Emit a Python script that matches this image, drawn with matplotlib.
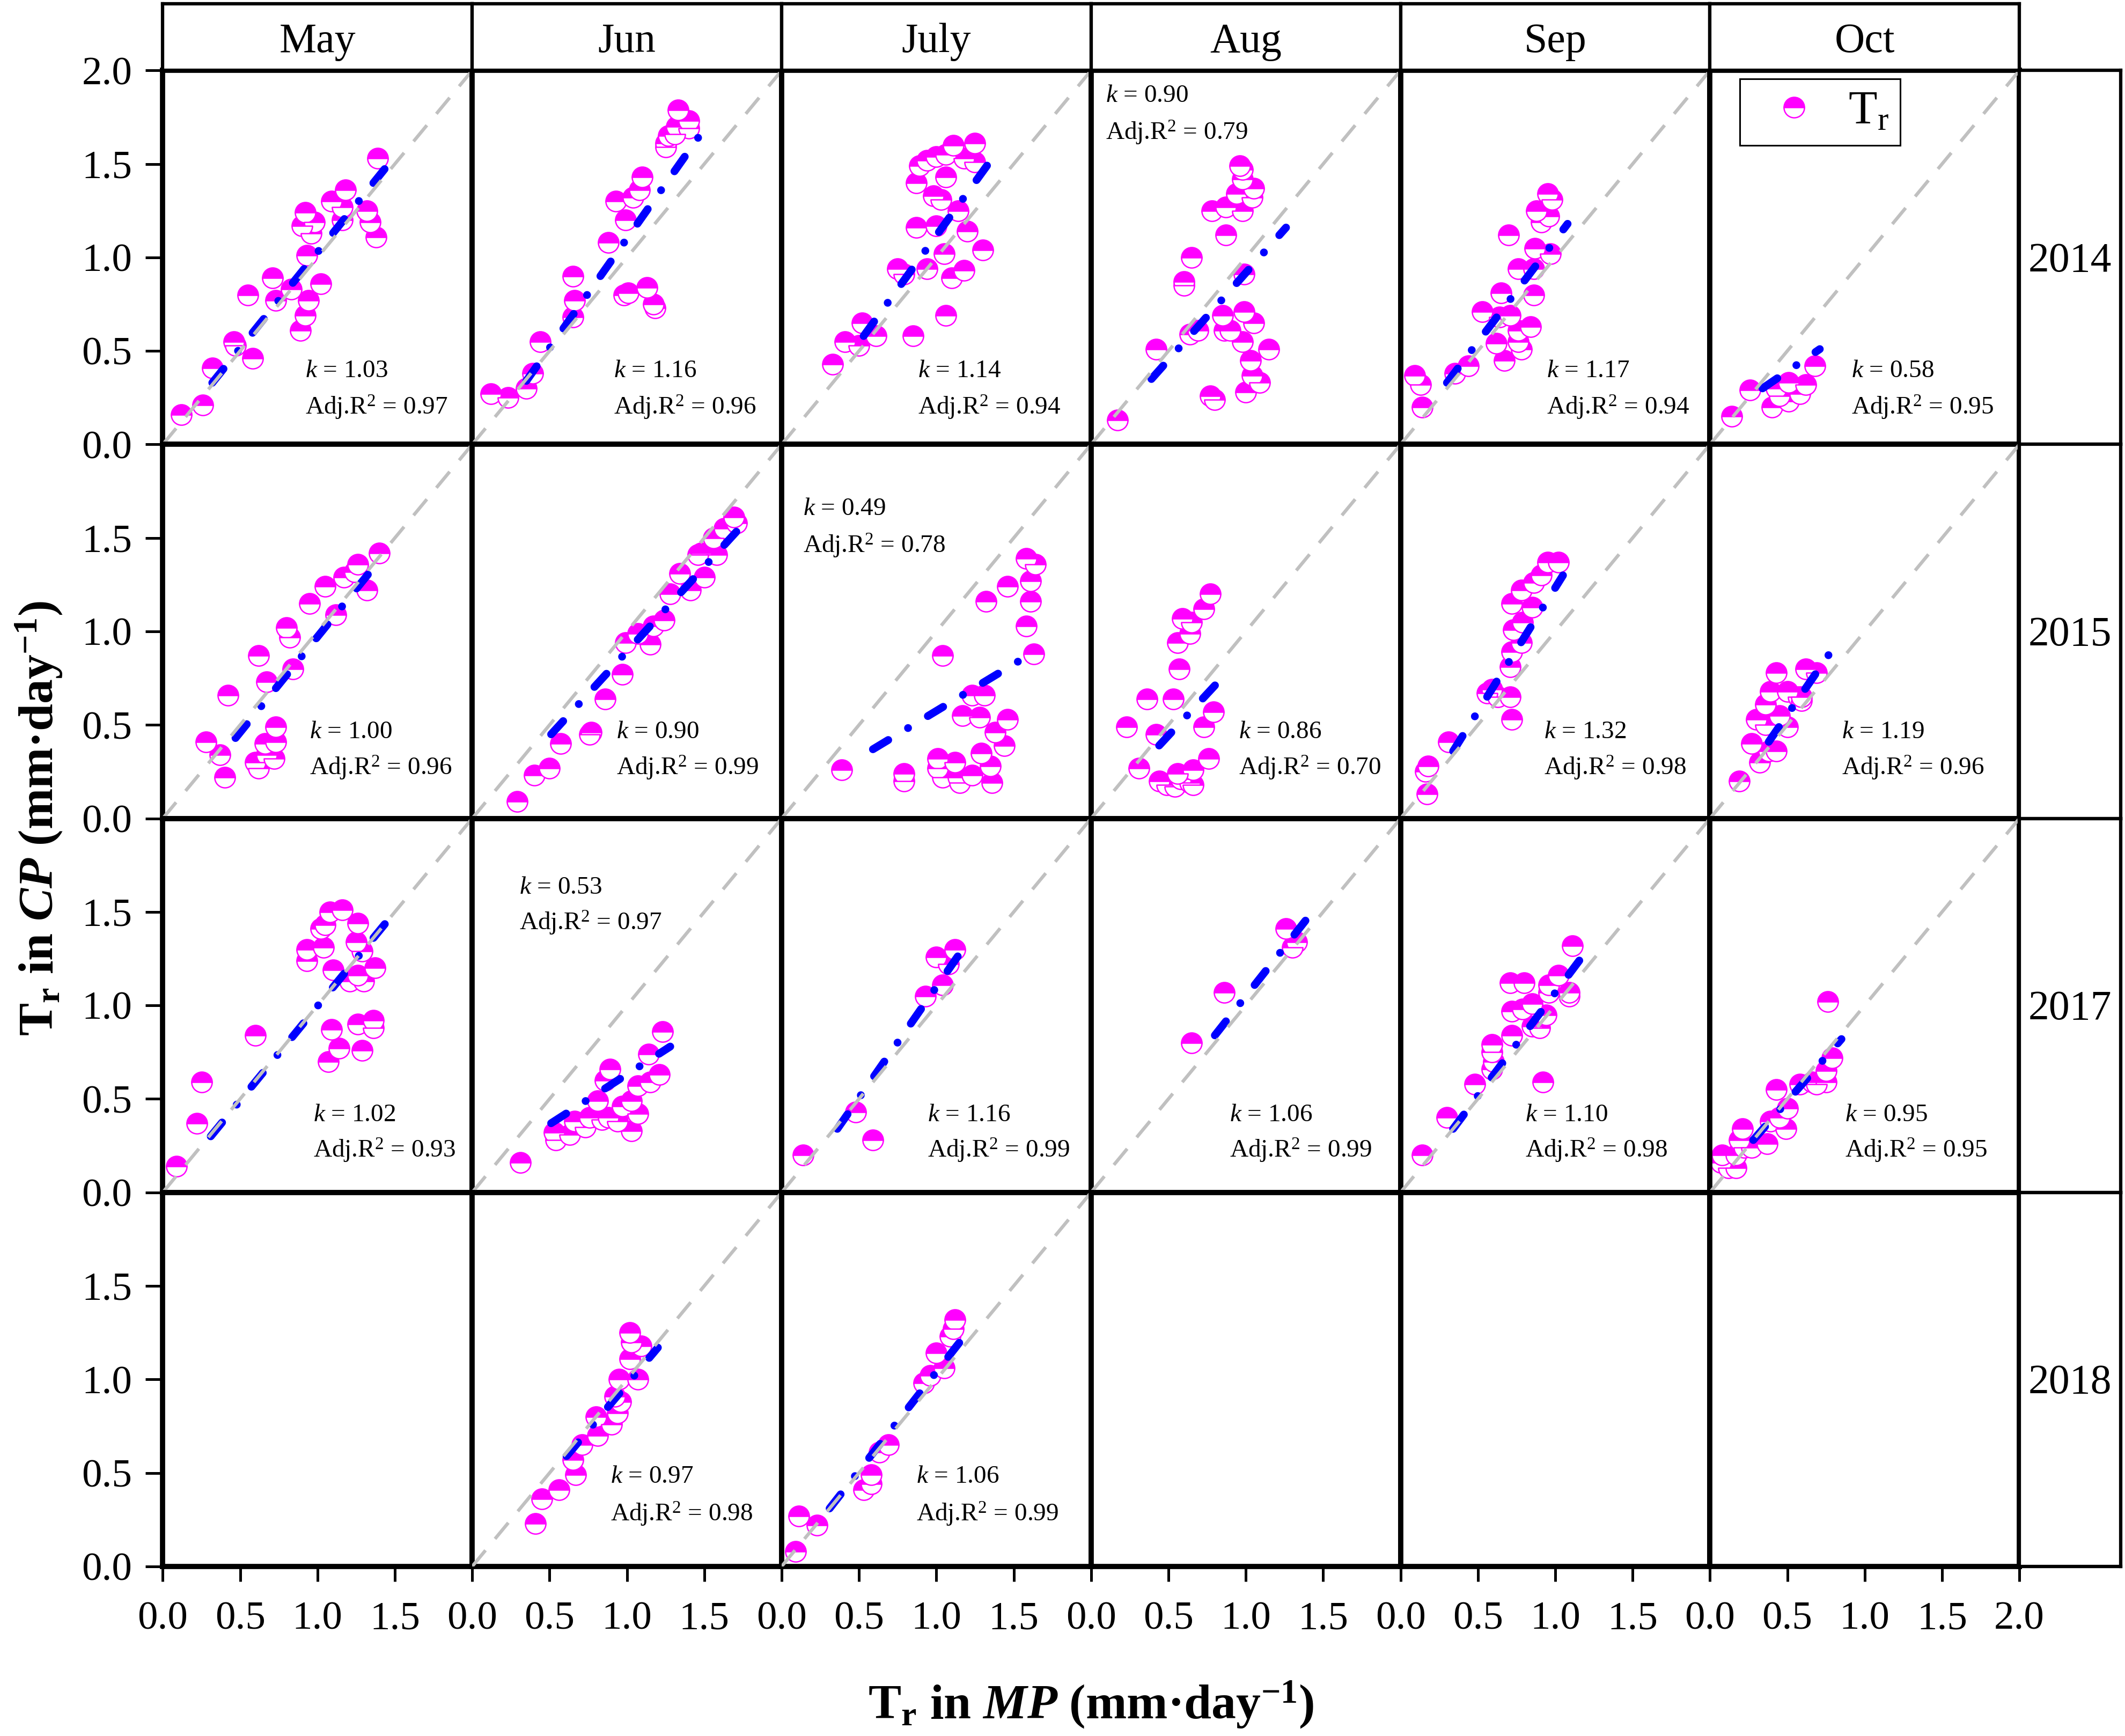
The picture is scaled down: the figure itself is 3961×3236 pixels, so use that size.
import matplotlib
matplotlib.use('Agg')
import matplotlib.pyplot as plt

plt.rcParams['font.family'] = ['Liberation Serif', 'DejaVu Serif']
plt.rcParams['mathtext.fontset'] = 'custom'
plt.rcParams['mathtext.rm'] = 'Liberation Serif'
plt.rcParams['mathtext.it'] = 'Liberation Serif:italic'
plt.rcParams['mathtext.bf'] = 'Liberation Serif:bold'
plt.rcParams['mathtext.bfit'] = 'Liberation Serif:italic:bold'
plt.rcParams['lines.scale_dashes'] = False

months = ['May', 'Jun', 'July', 'Aug', 'Sep', 'Oct']
years = ['2014', '2015', '2017', '2018']
ticks = [0.0, 0.5, 1.0, 1.5, 2.0]

# --- 2014 ---
pts_2014_may = [(0.12,0.16),(0.26,0.21),(0.32,0.41),(0.46,0.55),(0.47,0.53),(0.58,0.46),(0.55,0.80),
                (0.71,0.89),(0.73,0.77),(0.83,0.83),(0.93,1.01),(1.02,0.86),(0.94,0.77),(0.92,0.69),
                (0.89,0.61),(0.92,1.24),(0.98,1.19),(0.90,1.17),(0.96,1.13),(1.09,1.30),(1.18,1.36),
                (1.16,1.27),(1.16,1.20),(1.32,1.25),(1.34,1.19),(1.38,1.11),(1.39,1.53)]
fit_2014_may = ([0.32, 1.47], [0.33, 1.51])
pts_2014_jun = [(0.12,0.27),(0.23,0.25),(0.35,0.30),(0.39,0.38),(0.44,0.55),(0.65,0.90),(0.66,0.77),
                (0.65,0.68),(0.88,1.08),(0.99,1.20),(0.93,1.30),(1.04,1.32),(1.08,1.36),(1.10,1.43),
                (0.98,0.80),(1.01,0.81),(1.13,0.84),(1.18,0.73),(1.17,0.75),(1.25,1.61),(1.27,1.65),
                (1.33,1.79),(1.32,1.70),(1.40,1.73),(1.40,1.69),(1.31,1.66),(1.25,1.59)]
fit_2014_jun = ([0.35, 1.46], [0.34, 1.64])
pts_2014_jul = [(0.33,0.43),(0.41,0.55),(0.50,0.53),(0.61,0.58),(0.52,0.65),(0.85,0.58),(1.06,0.69),
                (0.75,0.94),(0.79,0.91),(0.94,0.94),(1.05,1.02),(1.10,0.89),(1.18,0.93),(1.30,1.04),
                (0.87,1.16),(1.00,1.17),(1.20,1.14),(1.14,1.25),(0.98,1.33),(1.03,1.31),(1.06,1.43),
                (0.87,1.40),(0.89,1.49),(0.94,1.52),(1.00,1.54),(1.06,1.55),(1.11,1.60),(1.18,1.53),
                (1.25,1.51),(1.25,1.61)]
fit_2014_jul = ([0.53, 1.37], [0.58, 1.54])
pts_2014_aug = [(0.17,0.13),(0.42,0.51),(0.60,0.87),(0.60,0.85),(0.65,1.00),(0.64,0.59),(0.69,0.61),
                (0.85,0.69),(0.86,0.61),(0.90,0.61),(0.98,0.55),(0.99,0.71),(1.05,0.65),(1.15,0.51),
                (1.03,0.45),(1.04,0.37),(1.09,0.33),(1.00,0.28),(0.77,0.26),(0.80,0.24),(0.99,0.91),
                (0.87,1.12),(0.78,1.25),(0.87,1.27),(0.98,1.25),(0.94,1.34),(1.04,1.32),(1.05,1.37),
                (0.98,1.42),(0.98,1.47),(0.96,1.49)]
fit_2014_aug = ([0.39, 1.26], [0.35, 1.16])
pts_2014_sep = [(0.09,0.37),(0.13,0.32),(0.14,0.20),(0.35,0.38),(0.44,0.42),(0.53,0.71),(0.65,0.81),
                (0.64,0.68),(0.71,0.69),(0.62,0.54),(0.67,0.45),(0.76,0.61),(0.78,0.51),(0.84,0.63),
                (0.76,0.55),(0.86,0.80),(0.76,0.94),(0.86,0.94),(0.70,1.12),(0.87,1.05),(0.97,1.02),
                (0.91,1.19),(0.96,1.22),(0.88,1.25),(0.95,1.34),(0.98,1.31)]
fit_2014_sep = ([0.30, 1.08], [0.33, 1.18])
pts_2014_oct = [(0.14,0.15),(0.26,0.29),(0.40,0.20),(0.43,0.30),(0.51,0.23),(0.51,0.33),(0.58,0.27),
                (0.62,0.32),(0.68,0.42),(0.45,0.26)]
fit_2014_oct = ([0.34, 0.71], [0.30, 0.51])

# --- 2015 ---
pts_2015_may = [(0.28,0.41),(0.37,0.34),(0.40,0.22),(0.42,0.66),(0.62,0.87),(0.67,0.73),(0.84,0.80),
                (0.80,1.02),(0.82,0.97),(0.95,1.15),(1.05,1.24),(1.12,1.09),(1.17,1.29),(1.24,1.32),
                (1.26,1.36),(1.32,1.22),(1.40,1.42),(0.73,0.49),(0.66,0.40),(0.73,0.41),(0.67,0.34),
                (0.60,0.30),(0.62,0.27),(0.72,0.32)]
fit_2015_may = ([0.47, 1.39], [0.43, 1.37])
pts_2015_jun = [(0.29,0.09),(0.40,0.23),(0.50,0.27),(0.57,0.40),(0.77,0.46),(0.76,0.45),(0.86,0.64),
                (0.97,0.77),(0.99,0.94),(1.15,0.93),(1.07,0.99),(1.17,1.03),(1.24,1.06),(1.28,1.20),
                (1.34,1.31),(1.41,1.22),(1.48,1.42),(1.58,1.41),(1.50,1.29),(1.63,1.55),(1.71,1.58),
                (1.69,1.61),(1.56,1.50),(1.46,1.41)]
fit_2015_jun = ([0.51, 1.77], [0.45, 1.59])
pts_2015_jul = [(0.39,0.26),(0.79,0.24),(0.79,0.20),(1.01,0.32),(1.01,0.27),(1.04,0.22),(1.12,0.30),
                (1.14,0.22),(1.15,0.19),(1.23,0.23),(1.29,0.35),(1.35,0.28),(1.36,0.19),(1.04,0.87),
                (1.23,0.66),(1.31,0.66),(1.17,0.55),(1.28,0.54),(1.38,0.46),(1.44,0.39),(1.46,0.53),
                (1.32,1.16),(1.46,1.24),(1.61,1.27),(1.61,1.16),(1.58,1.03),(1.63,0.88),(1.58,1.39),
                (1.64,1.36)]
fit_2015_jul = ([0.59, 1.65], [0.37, 0.90])
pts_2015_aug = [(0.23,0.49),(0.31,0.27),(0.36,0.64),(0.42,0.45),(0.53,0.64),(0.57,0.80),(0.56,0.94),
                (0.59,1.07),(0.65,1.05),(0.64,0.99),(0.73,1.12),(0.77,1.20),(0.79,0.57),(0.73,0.49),
                (0.76,0.32),(0.44,0.20),(0.49,0.18),(0.54,0.17),(0.58,0.21),(0.66,0.26),(0.64,0.19),
                (0.56,0.24),(0.66,0.18)]
fit_2015_aug = ([0.44, 0.90], [0.39, 0.80])
pts_2015_sep = [(0.17,0.13),(0.16,0.25),(0.18,0.28),(0.31,0.41),(0.59,0.69),(0.56,0.67),(0.63,0.65),
                (0.71,0.65),(0.72,0.53),(0.71,0.81),(0.72,0.89),(0.78,0.94),(0.73,1.01),(0.79,1.05),
                (0.72,1.15),(0.85,1.13),(0.78,1.22),(0.86,1.26),(0.91,1.30),(0.95,1.37),(1.02,1.37)]
fit_2015_sep = ([0.34, 1.05], [0.36, 1.30])
pts_2015_oct = [(0.19,0.20),(0.27,0.40),(0.32,0.30),(0.38,0.36),(0.43,0.36),(0.30,0.53),(0.36,0.50),
                (0.36,0.61),(0.39,0.68),(0.43,0.78),(0.45,0.55),(0.50,0.49),(0.50,0.68),(0.57,0.65),
                (0.59,0.63),(0.62,0.80),(0.69,0.78),(0.59,0.65)]
fit_2015_oct = ([0.38, 0.83], [0.41, 0.95])

# --- 2017 ---
pts_2017_may = [(0.09,0.14),(0.22,0.37),(0.25,0.59),(0.60,0.84),(1.09,0.87),(1.14,0.77),(1.07,0.70),
                (1.29,0.76),(1.26,0.90),(1.36,0.92),(1.36,0.88),(0.93,1.24),(0.93,1.30),(1.04,1.31),
                (1.02,1.41),(1.08,1.50),(1.16,1.51),(1.26,1.44),(1.05,1.43),(1.25,1.34),(1.29,1.29),
                (1.37,1.20),(1.10,1.19),(1.21,1.13),(1.30,1.13),(1.26,1.16)]
fit_2017_may = ([0.31, 1.45], [0.30, 1.45])
pts_2017_jun = [(0.31,0.16),(0.53,0.32),(0.54,0.28),(0.63,0.31),(0.66,0.38),(0.73,0.35),(0.76,0.40),
                (0.81,0.49),(0.84,0.39),(0.88,0.40),(0.94,0.38),(0.89,0.66),(0.86,0.60),(0.97,0.46),
                (1.03,0.33),(1.03,0.49),(1.07,0.42),(1.07,0.57),(1.15,0.59),(1.14,0.74),(1.21,0.63),
                (1.23,0.86)]
fit_2017_jun = ([0.51, 1.28], [0.37, 0.78])
pts_2017_jul = [(0.14,0.20),(0.59,0.28),(0.48,0.43),(0.93,1.05),(1.04,1.11),(1.00,1.26),(1.12,1.30),
                (1.08,1.22)]
fit_2017_jul = ([0.36, 1.17], [0.34, 1.30])
pts_2017_aug = [(0.65,0.80),(0.86,1.07),(1.26,1.41),(1.33,1.34),(1.30,1.31)]
fit_2017_aug = ([0.80, 1.43], [0.84, 1.50])
pts_2017_sep = [(0.14,0.20),(0.30,0.40),(0.48,0.58),(0.59,0.66),(0.60,0.70),(0.59,0.79),(0.59,0.75),
                (0.72,0.84),(0.72,0.97),(0.79,0.98),(0.85,0.89),(0.90,0.88),(0.94,0.95),(0.85,1.01),
                (0.92,0.59),(0.96,1.07),(0.96,1.11),(1.02,1.16),(0.71,1.12),(0.80,1.12),(1.09,1.05),
                (1.09,1.07),(1.11,1.32)]
fit_2017_sep = ([0.34, 1.21], [0.34, 1.30])
pts_2017_oct = [(0.07,0.16),(0.08,0.20),(0.12,0.13),(0.17,0.13),(0.17,0.20),(0.19,0.28),(0.21,0.34),
                (0.22,0.24),(0.27,0.24),(0.37,0.26),(0.39,0.38),(0.45,0.40),(0.49,0.34),(0.50,0.45),
                (0.43,0.55),(0.58,0.58),(0.66,0.59),(0.75,0.59),(0.75,0.65),(0.79,0.72),(0.76,1.02),
                (0.69,0.58)]
fit_2017_oct = ([0.28, 0.85], [0.28, 0.82])

# --- 2018 ---
pts_2018_jun = [(0.41,0.23),(0.45,0.36),(0.56,0.41),(0.67,0.49),(0.65,0.57),(0.71,0.65),(0.81,0.70),
                (0.80,0.80),(0.90,0.76),(0.94,0.82),(0.96,0.88),(0.92,0.91),(0.95,1.00),(1.07,1.00),
                (1.02,1.11),(1.09,1.18),(1.03,1.20),(1.02,1.25)]
fit_2018_jun = ([0.61, 1.20], [0.59, 1.17])
pts_2018_jul = [(0.09,0.08),(0.11,0.27),(0.23,0.22),(0.53,0.41),(0.58,0.44),(0.58,0.49),(0.63,0.61),
                (0.69,0.65),(0.92,0.98),(0.96,1.02),(1.05,1.06),(1.00,1.14),(1.09,1.23),(1.12,1.32),
                (1.11,1.27)]
fit_2018_jul = ([0.31, 1.18], [0.31, 1.23])

k_2014 = ['1.03', '1.16', '1.14', '0.90', '1.17', '0.58']
r2_2014 = ['0.97', '0.96', '0.94', '0.79', '0.94', '0.95']
k_2015 = ['1.00', '0.90', '0.49', '0.86', '1.32', '1.19']
r2_2015 = ['0.96', '0.99', '0.78', '0.70', '0.98', '0.96']
k_2017 = ['1.02', '0.53', '1.16', '1.06', '1.10', '0.95']
r2_2017 = ['0.93', '0.97', '0.99', '0.99', '0.98', '0.95']
k_2018 = [None, '0.97', '1.06', None, None, None]
r2_2018 = [None, '0.98', '0.99', None, None, None]

grid_pts = [
    [pts_2014_may, pts_2014_jun, pts_2014_jul, pts_2014_aug, pts_2014_sep, pts_2014_oct],
    [pts_2015_may, pts_2015_jun, pts_2015_jul, pts_2015_aug, pts_2015_sep, pts_2015_oct],
    [pts_2017_may, pts_2017_jun, pts_2017_jul, pts_2017_aug, pts_2017_sep, pts_2017_oct],
    [None, pts_2018_jun, pts_2018_jul, None, None, None],
]
grid_fit = [
    [fit_2014_may, fit_2014_jun, fit_2014_jul, fit_2014_aug, fit_2014_sep, fit_2014_oct],
    [fit_2015_may, fit_2015_jun, fit_2015_jul, fit_2015_aug, fit_2015_sep, fit_2015_oct],
    [fit_2017_may, fit_2017_jun, fit_2017_jul, fit_2017_aug, fit_2017_sep, fit_2017_oct],
    [None, fit_2018_jun, fit_2018_jul, None, None, None],
]
grid_k = [k_2014, k_2015, k_2017, k_2018]
grid_r2 = [r2_2014, r2_2015, r2_2017, r2_2018]

# where the k / Adj.R2 text sits in each panel (axes fraction)
ann_x = [[0.460, 0.458, 0.441, 0.048, 0.472, 0.457],
         [0.475, 0.466, 0.069, 0.477, 0.464, 0.426],
         [0.487, 0.152, 0.471, 0.448, 0.403, 0.436],
         [None, 0.447, 0.436, None, None, None]]
ann_y = [(0.196, 0.099), (0.231, 0.135), (0.207, 0.112), (0.240, 0.140)]
ann_y_top = {(0, 3): (0.932, 0.833), (1, 2): (0.828, 0.729), (2, 1): (0.815, 0.720)}

MAGENTA = '#FF00FF'
BLUE = '#0000FF'
GRAY = '#C0C0C0'

fig = plt.figure(figsize=(39.61, 32.36), dpi=100)
L, R, B, T = 0.0766, 0.9503, 0.0977, 0.9594
HT = 0.9977
YR = 0.998
pw = (R - L) / 6
ph = (T - B) / 4

legend_handle = None
legend_ax = None
for r in range(4):
    for c in range(6):
        ax = fig.add_axes([L + c * pw, T - (r + 1) * ph, pw, ph])
        ax.set_xlim(0, 2)
        ax.set_ylim(0, 2)
        for s in ax.spines.values():
            s.set_linewidth(7)
        pts = grid_pts[r][c]
        if pts is not None:
            xs = [p[0] for p in pts]
            ys = [p[1] for p in pts]
            h, = ax.plot(xs, ys, ls='none', marker='o', markersize=27.5, fillstyle='top',
                         markerfacecolor=MAGENTA, markerfacecoloralt='white',
                         markeredgecolor=MAGENTA, markeredgewidth=1.8, zorder=2,
                         label='T$_\\mathrm{r}$')
            fx, fy = grid_fit[r][c]
            ax.plot(fx, fy, color=BLUE, lw=10.5, ls=(0, (24, 31, 0.1, 31)),
                    dash_capstyle='round', zorder=3)
            ax.plot([0, 2], [0, 2], color=GRAY, lw=4.5, ls=(0, (28, 20)), zorder=4)
            yk, ya = ann_y_top.get((r, c), ann_y[r])
            ax.text(ann_x[r][c], yk, '$k$ = ' + grid_k[r][c], transform=ax.transAxes,
                    fontsize=34, ha='left', va='center', zorder=5)
            ax.text(ann_x[r][c], ya, 'Adj.R$^2$ = ' + grid_r2[r][c], transform=ax.transAxes,
                    fontsize=34, ha='left', va='center', zorder=5)
            if r == 0 and c == 5:
                legend_handle = h
                legend_ax = ax
        # ticks only on the outer panels
        if r == 3:
            xt = ticks if c == 5 else ticks[:-1]
            ax.set_xticks(xt)
            ax.set_xticklabels(['%.1f' % t for t in xt])
            ax.tick_params(axis='x', direction='out', length=20, width=3.6, pad=27, labelsize=54)
        else:
            ax.set_xticks([])
        if c == 0:
            yt = ticks if r == 0 else ticks[:-1]
            ax.set_yticks(yt)
            ax.set_yticklabels(['%.1f' % t for t in yt])
            ax.tick_params(axis='y', direction='out', length=23, width=3.6, pad=18, labelsize=54)
        else:
            ax.set_yticks([])

leg = legend_ax.legend(handles=[legend_handle], loc='upper left', bbox_to_anchor=(0.097, 0.978),
                       borderaxespad=0, frameon=True, fancybox=False, edgecolor='black',
                       framealpha=1, fontsize=63, handlelength=1.8, handletextpad=0.25,
                       borderpad=0.25, numpoints=1)
leg.get_frame().set_linewidth(2.2)

# month header strip
for c, m in enumerate(months):
    hx = fig.add_axes([L + c * pw, T, pw, HT - T])
    hx.set_xticks([])
    hx.set_yticks([])
    for s in hx.spines.values():
        s.set_linewidth(4.5)
    hx.text(0.5, 0.43, m, transform=hx.transAxes, ha='center', va='center', fontsize=56)

# year strip
for r, yv in enumerate(years):
    yx = fig.add_axes([R, T - (r + 1) * ph, YR - R, ph])
    yx.set_xticks([])
    yx.set_yticks([])
    for s in yx.spines.values():
        s.set_linewidth(4.5)
    yx.text(0.5, 0.49, yv, transform=yx.transAxes, ha='center', va='center', fontsize=56)

fig.text(0.5 * (L + R), 0.0099, 'T$_\\mathbf{r}$ in $\\mathbfit{MP}$ (mm·day$^\\mathbf{-1}$)',
         ha='center', va='baseline', fontsize=66, fontweight='bold')
fig.text(0.025, 0.5 * (B + T), 'T$_\\mathbf{r}$ in $\\mathbfit{CP}$ (mm·day$^\\mathbf{-1}$)',
         ha='center', va='baseline', rotation=90, rotation_mode='anchor',
         fontsize=66, fontweight='bold')

fig.savefig('out.png', dpi=100)
